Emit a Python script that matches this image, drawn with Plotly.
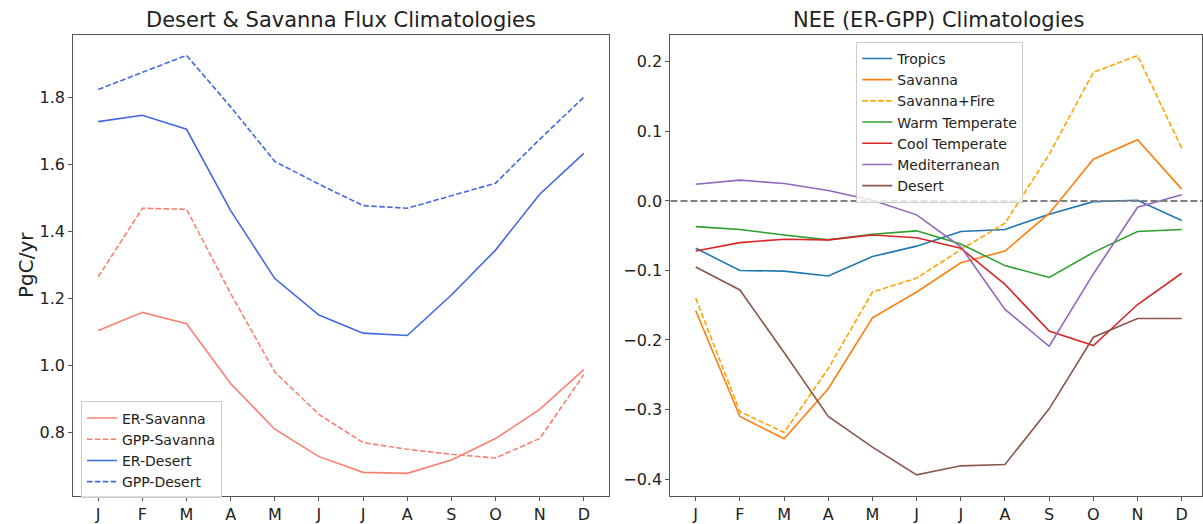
import plotly.graph_objects as go

months = ["J", "F", "M", "A", "M", "J", "J", "A", "S", "O", "N", "D"]
month_idx = list(range(12))

# Left panel: Desert & Savanna fluxes (PgC/yr)
er_savanna = [1.105, 1.159, 1.125, 0.946, 0.810, 0.728, 0.681, 0.678, 0.718, 0.782, 0.869, 0.988]
gpp_savanna = [1.265, 1.470, 1.467, 1.215, 0.981, 0.854, 0.770, 0.750, 0.735, 0.724, 0.782, 0.973]
er_desert = [1.729, 1.748, 1.706, 1.463, 1.260, 1.151, 1.097, 1.090, 1.211, 1.345, 1.512, 1.634]
gpp_desert = [1.825, 1.877, 1.927, 1.773, 1.610, 1.542, 1.478, 1.470, 1.508, 1.545, 1.676, 1.802]

# Right panel: NEE climatologies
nee_tropics = [-0.068, -0.100, -0.101, -0.108, -0.080, -0.065, -0.044, -0.041, -0.019, -0.001, 0.001, -0.028]
nee_savanna = [-0.158, -0.310, -0.342, -0.270, -0.168, -0.131, -0.089, -0.072, -0.018, 0.060, 0.088, 0.017]
nee_savanna_fire = [-0.140, -0.303, -0.333, -0.241, -0.131, -0.111, -0.070, -0.032, 0.067, 0.185, 0.209, 0.076]
nee_warm_temp = [-0.037, -0.041, -0.049, -0.056, -0.048, -0.043, -0.062, -0.093, -0.110, -0.074, -0.044, -0.041]
nee_cool_temp = [-0.072, -0.060, -0.055, -0.056, -0.049, -0.053, -0.068, -0.120, -0.187, -0.208, -0.149, -0.104]
nee_mediterranean = [0.024, 0.030, 0.025, 0.015, 0.001, -0.020, -0.066, -0.156, -0.209, -0.105, -0.009, 0.009]
nee_desert = [-0.095, -0.128, -0.218, -0.310, -0.354, -0.394, -0.381, -0.379, -0.299, -0.196, -0.169, -0.169]

W, H = 1203, 524
FONT = "DejaVu Sans"
DASH = "5.5px,2.4px"

fig = go.Figure()

left_series = [
    ("ER-Savanna", er_savanna, "#FA8072", "solid"),
    ("GPP-Savanna", gpp_savanna, "#FA8072", DASH),
    ("ER-Desert", er_desert, "#4169E1", "solid"),
    ("GPP-Desert", gpp_desert, "#4169E1", DASH),
]
for name, vals, col, dash in left_series:
    fig.add_trace(go.Scatter(x=month_idx, y=vals, name=name, mode="lines",
                             line=dict(color=col, width=1.6, dash=dash),
                             xaxis="x", yaxis="y", legend="legend"))

right_series = [
    ("Tropics", nee_tropics, "#1f77b4", "solid"),
    ("Savanna", nee_savanna, "#ff7f0e", "solid"),
    ("Savanna+Fire", nee_savanna_fire, "#FFA500", DASH),
    ("Warm Temperate", nee_warm_temp, "#2ca02c", "solid"),
    ("Cool Temperate", nee_cool_temp, "#d62728", "solid"),
    ("Mediterranean", nee_mediterranean, "#9467bd", "solid"),
    ("Desert", nee_desert, "#8c564b", "solid"),
]
for name, vals, col, dash in right_series:
    fig.add_trace(go.Scatter(x=month_idx, y=vals, name=name, mode="lines",
                             line=dict(color=col, width=1.6, dash=dash),
                             xaxis="x2", yaxis="y2", legend="legend2"))

# zero reference line in right panel
fig.add_shape(type="line", xref="x2 domain", yref="y2", x0=0, x1=1, y0=0, y1=0,
              line=dict(color="#808080", width=2, dash="7px,3px"))

axis_common = dict(showgrid=False, zeroline=False, showline=True, mirror=True,
                   linecolor="#555555", linewidth=1.2, ticks="outside", ticklen=4,
                   tickcolor="#555555", tickfont=dict(family=FONT, size=16, color="#222222"))

y_dom = [1 - 497.7 / H, 1 - 34.7 / H]

fig.update_layout(
    width=W, height=H,
    margin=dict(l=0, r=0, t=0, b=0),
    paper_bgcolor="white", plot_bgcolor="white",
    font=dict(family=FONT, color="#222222"),
    xaxis=dict(domain=[73.3 / W, 609.3 / W], range=[-0.566, 11.566],
               tickvals=month_idx, ticktext=months, anchor="y", **axis_common),
    yaxis=dict(domain=y_dom, range=[0.611, 1.989], tickvals=[0.8, 1.0, 1.2, 1.4, 1.6, 1.8],
               ticktext=["0.8", "1.0", "1.2", "1.4", "1.6", "1.8"], anchor="x", **axis_common),
    xaxis2=dict(domain=[671 / W, 1.0], range=[-0.572, 11.459],
                tickvals=month_idx, ticktext=months, anchor="y2", **axis_common),
    yaxis2=dict(domain=y_dom, range=[-0.4241, 0.2393],
                tickvals=[-0.4, -0.3, -0.2, -0.1, 0.0, 0.1, 0.2],
                ticktext=["\u22120.4", "\u22120.3", "\u22120.2", "\u22120.1", "0.0", "0.1", "0.2"],
                anchor="x2", **axis_common),
    legend=dict(x=81 / W, y=1 - 403 / H, xanchor="left", yanchor="top",
                bgcolor="rgba(255,255,255,0.8)", bordercolor="#cccccc", borderwidth=1,
                font=dict(family=FONT, size=14, color="#222222"), itemwidth=30,
                tracegroupgap=0),
    legend2=dict(x=857 / W, y=1 - 42 / H, xanchor="left", yanchor="top",
                 bgcolor="rgba(255,255,255,0.8)", bordercolor="#cccccc", borderwidth=1,
                 font=dict(family=FONT, size=14, color="#222222"), itemwidth=30,
                 tracegroupgap=0),
    annotations=[
        dict(text="Desert & Savanna Flux Climatologies", x=341 / W, y=1 - 20 / H,
             xref="paper", yref="paper", showarrow=False,
             font=dict(family=FONT, size=21, color="#222222"), xanchor="center", yanchor="middle"),
        dict(text="NEE (ER-GPP) Climatologies", x=939 / W, y=1 - 20 / H,
             xref="paper", yref="paper", showarrow=False,
             font=dict(family=FONT, size=21, color="#222222"), xanchor="center", yanchor="middle"),
        dict(text="PgC/yr", x=26 / W, y=1 - 266 / H, xref="paper", yref="paper",
             showarrow=False, textangle=-90,
             font=dict(family=FONT, size=20, color="#222222"), xanchor="center", yanchor="middle"),
    ],
)

fig.write_html("out.html", config={"displayModeBar": False},
               post_script="document.body.style.margin='0';")
